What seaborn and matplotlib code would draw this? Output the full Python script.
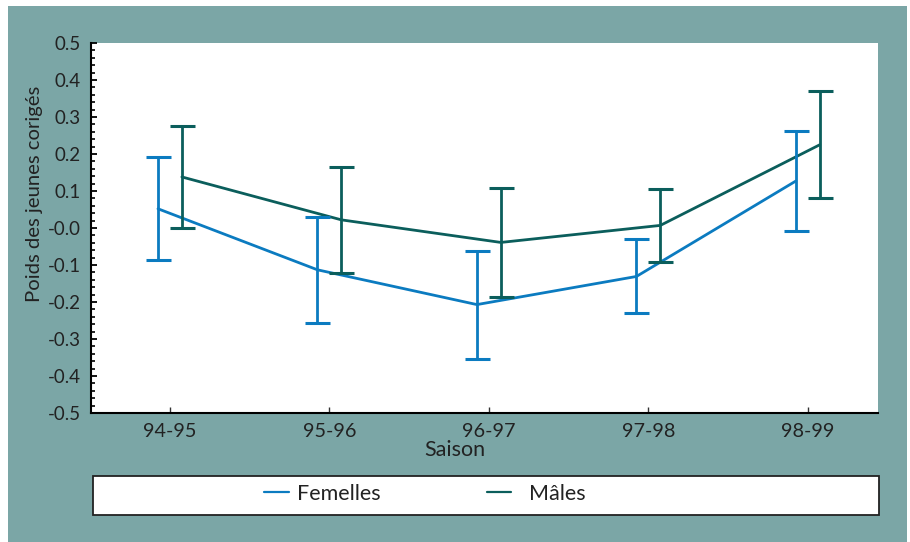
import matplotlib
matplotlib.use("Agg")
import matplotlib.pyplot as plt
import seaborn as sns
import pandas as pd
import numpy as np
from matplotlib.patches import Rectangle
from matplotlib.lines import Line2D

saisons = ["94-95", "95-96", "96-97", "97-98", "98-99"]
femelles_moy = [0.052, -0.113, -0.207, -0.131, 0.127]
femelles_err = [0.139, 0.143, 0.146, 0.100, 0.134]
males_moy = [0.138, 0.022, -0.039, 0.007, 0.225]
males_err = [0.138, 0.143, 0.147, 0.099, 0.144]

BLUE = "#0b7bc0"
GREEN = "#0b5e5c"
TEAL = "#7ba6a6"
TXT = "#222222"

sns.set_theme(style="white")
plt.rcParams["font.family"] = ["Lato", "DejaVu Sans"]

W, H = 910, 542
fig = plt.figure(figsize=(W / 100, H / 100), dpi=100, facecolor="white")
fig.add_artist(Rectangle((8 / W, 0), (907 - 8) / W, (542 - 6) / H,
                         transform=fig.transFigure, facecolor=TEAL,
                         edgecolor="none", zorder=-10))

ax = fig.add_axes([91 / W, (H - 413) / H, (878 - 91) / W, (413 - 43) / H])
ax.set_zorder(2)
ax.set_facecolor("white")

off = 0.075
x = np.arange(len(saisons))
df = pd.DataFrame({
    "x": np.concatenate([x - off, x + off]),
    "val": femelles_moy + males_moy,
    "sexe": ["Femelles"] * len(saisons) + ["Mâles"] * len(saisons),
})
sns.lineplot(data=df, x="x", y="val", hue="sexe", palette={"Femelles": BLUE, "Mâles": GREEN},
             linewidth=2, ax=ax, legend=False, sort=False)
ax.errorbar(x - off, femelles_moy, yerr=femelles_err, fmt="none", ecolor=BLUE,
            elinewidth=2, capsize=9, capthick=2.2)
ax.errorbar(x + off, males_moy, yerr=males_err, fmt="none", ecolor=GREEN,
            elinewidth=2, capsize=9, capthick=2.2)

ax.set_xlim(-0.495, 4.44)
ax.set_ylim(-0.5, 0.5)
ax.set_xticks(x)
ax.set_xticklabels(saisons)
yt = np.round(np.arange(-0.5, 0.51, 0.1), 1)
ax.set_yticks(yt)
ax.set_yticklabels([f"{v:.1f}" for v in yt])
ax.set_yticks(np.round(np.arange(-0.5, 0.51, 0.02), 2), minor=True)

for s in ["top", "right"]:
    ax.spines[s].set_visible(False)
for s in ["left", "bottom"]:
    ax.spines[s].set_color("black")
    ax.spines[s].set_linewidth(1.5)

ax.tick_params(axis="y", which="major", direction="in", length=4, width=1.3,
               color="black", labelsize=13.5, pad=7.5, left=True, labelcolor=TXT)
ax.tick_params(axis="y", which="minor", direction="in", length=3, width=1.2,
               color="black", left=True)
ax.tick_params(axis="x", which="major", direction="in", length=4, width=1,
               color="#333333", labelsize=14.3, pad=7, bottom=True, labelcolor=TXT)

ax.set_xlabel("Saison", fontsize=15.5, color=TXT)
ax.set_ylabel("Poids des jeunes corigés", fontsize=14.6, color=TXT)
ax.xaxis.set_label_coords(0.4625, -0.074)
ax.yaxis.set_label_coords(-0.061, 0.592)

fig.add_artist(Rectangle((93 / W, (H - 515) / H), (879 - 93) / W, (515 - 476) / H,
                         transform=fig.transFigure, facecolor="white",
                         edgecolor=TXT, linewidth=1.3, zorder=1))
LFS = 15.5
leg1 = fig.legend([Line2D([], [], color=BLUE, linewidth=1.6)], ["Femelles"],
                  loc="center left", bbox_to_anchor=(264 / W, (H - 494) / H),
                  frameon=False, fontsize=LFS, handlelength=1.16, handletextpad=0.37,
                  borderpad=0, borderaxespad=0)
leg2 = fig.legend([Line2D([], [], color=GREEN, linewidth=1.6)], ["Mâles"],
                  loc="center left", bbox_to_anchor=(487 / W, (H - 494) / H),
                  frameon=False, fontsize=LFS, handlelength=1.12, handletextpad=0.84,
                  borderpad=0, borderaxespad=0)
for leg in (leg1, leg2):
    leg.set_zorder(5)
    for t in leg.get_texts():
        t.set_color(TXT)

fig.savefig("out.png", dpi=100, facecolor=fig.get_facecolor())
